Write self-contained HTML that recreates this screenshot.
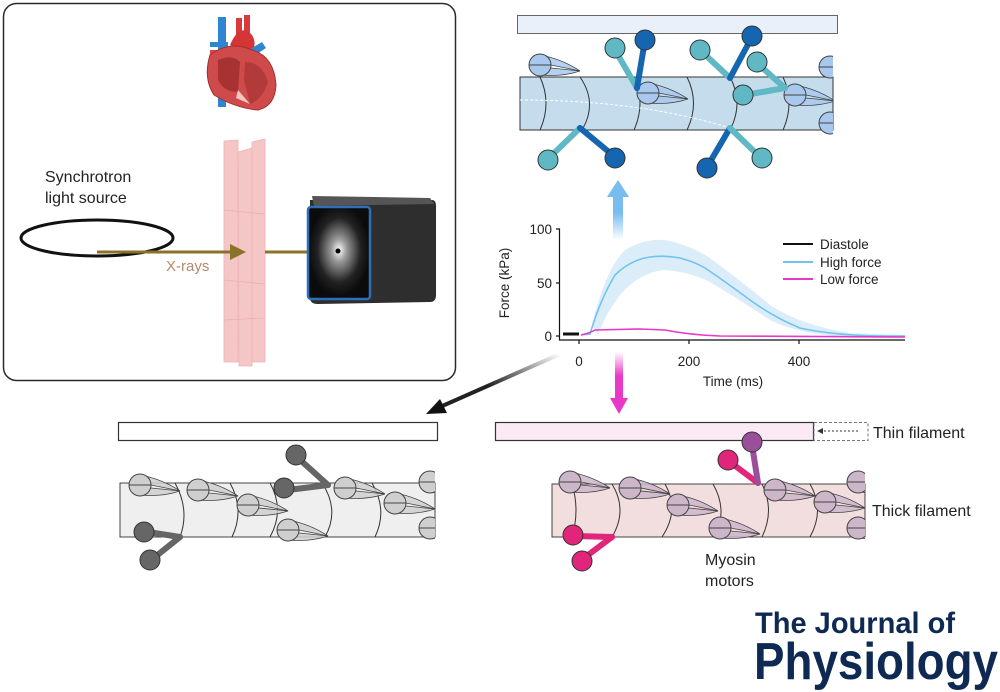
<!DOCTYPE html>
<html><head><meta charset="utf-8"><style>
html,body{margin:0;padding:0;background:#fff;}
svg{display:block;font-family:"Liberation Sans",sans-serif;}
</style></head><body>
<svg width="1000" height="692" viewBox="0 0 1000 692" xmlns="http://www.w3.org/2000/svg">
<defs>
  <g id="rest">
    <path d="M0,-10 Q22,-6 40,6 Q22,2 0,-2 Z" fill-opacity="0.85" stroke="#444" stroke-width="0.8"/>
    <path d="M0,2 Q22,4 40,6 Q22,12 0,10 Z" fill-opacity="0.85" stroke="#444" stroke-width="0.8"/>
    <circle cx="0" cy="0" r="11" stroke="#444" stroke-width="1"/>
    <line x1="-11" y1="0" x2="11" y2="0" stroke="#444" stroke-width="1"/>
  </g>
  <clipPath id="c1"><rect x="520" y="40" width="313" height="120"/></clipPath>
  <clipPath id="c2"><rect x="120" y="460" width="315" height="100"/></clipPath>
  <clipPath id="c3"><rect x="552" y="460" width="313" height="100"/></clipPath>
  <radialGradient id="glow" cx="0.5" cy="0.47" r="0.5"><stop offset="0" stop-color="#fff"/><stop offset="0.25" stop-color="#999"/><stop offset="0.7" stop-color="#222"/><stop offset="1" stop-color="#0b0b0b"/></radialGradient>
  <linearGradient id="bk" x1="1" y1="0" x2="0" y2="1"><stop offset="0" stop-color="#fff"/><stop offset="0.6" stop-color="#222"/></linearGradient>
  <linearGradient id="bl" x1="0" y1="1" x2="0" y2="0"><stop offset="0" stop-color="#fff"/><stop offset="0.6" stop-color="#79bdf0"/></linearGradient>
  <linearGradient id="mg" x1="0" y1="0" x2="0" y2="1"><stop offset="0" stop-color="#fff"/><stop offset="0.5" stop-color="#e838c8"/></linearGradient>
</defs>

<!-- Left panel -->
<rect x="3.5" y="3.5" width="452" height="377" rx="13" fill="#fff" stroke="#2a2a2a" stroke-width="1.5"/>
<g>
  <rect x="218" y="17" width="8" height="90" fill="#2f86d0"/>
  <rect x="210" y="42" width="18" height="5" fill="#2f86d0"/>
  <rect x="210" y="50" width="18" height="5" fill="#e04545"/>
  <rect x="236" y="18" width="6" height="30" fill="#d83b3b"/>
  <rect x="244" y="15" width="6" height="30" fill="#d83b3b"/>
  <path d="M230,45 Q240,22 252,35 Q258,45 250,55 Z" fill="#d63535"/>
  <path d="M240,55 L262,42 L266,48 L248,60 Z" fill="#2f86d0"/>
  <path d="M210,55 Q230,40 252,50 Q274,56 276,85 Q275,106 258,110 Q235,108 214,95 Q203,78 210,55 Z" fill="#cf4b4b" stroke="#a23030" stroke-width="1"/>
  <path d="M218,60 Q232,54 240,62 L238,92 Q224,92 218,80 Z" fill="#a83232"/>
  <path d="M245,62 Q262,62 268,82 Q262,100 250,104 L244,80 Z" fill="#b23a3a"/>
  <path d="M238,90 L250,104 L236,98 Z" fill="#f0c8c0"/>
</g>
<g fill="#f5c6c6" stroke="#efb2b2" stroke-width="0.8">
  <path d="M224,141 L238,140 L238,362 L224,362 Z"/>
  <path d="M238,152 L252,148 L252,366 L239,366 Z"/>
  <path d="M252,142 L265,139 L265,362 L252,362 Z"/>
</g>
<g fill="none" stroke="#eaa8a8" stroke-width="0.8" opacity="0.8">
  <line x1="224" y1="210" x2="265" y2="214"/><line x1="224" y1="280" x2="265" y2="284"/><line x1="224" y1="320" x2="265" y2="318"/>
</g>
<ellipse cx="97" cy="238" rx="76" ry="18" fill="none" stroke="#111" stroke-width="3"/>
<text x="45" y="182" font-size="16" fill="#222">Synchrotron</text>
<text x="45" y="203" font-size="16" fill="#222">light source</text>
<line x1="97" y1="252" x2="232" y2="252" stroke="#8a7328" stroke-width="3"/>
<path d="M230,244 L246,252 L230,260 Z" fill="#8a7328"/>
<line x1="265" y1="252" x2="325" y2="252" stroke="#8a7328" stroke-width="3"/>
<path d="M322,245 L337,252 L322,259 Z" fill="#8a7328"/>
<text x="166" y="271" font-size="15" fill="#b58a6c">X-rays</text>
<path d="M310,200 L432,200 Q436,200 436,206 L436,295 Q436,302 430,302 L318,304 Q310,304 310,298 Z" fill="#2e2e2e"/>
<path d="M312,196 L430,198 L434,204 L314,206 Z" fill="#555"/>
<rect x="308" y="207" width="62" height="92" rx="3" fill="url(#glow)" stroke="#2e6fb8" stroke-width="2.5"/>
<circle cx="338" cy="251" r="2.5" fill="#000"/>

<!-- Top right -->
<rect x="517.5" y="15.5" width="320" height="18" fill="#eaf0fa" stroke="#666" stroke-width="1"/>
<rect x="520" y="77" width="313" height="53" fill="#c4dcec" stroke="#333" stroke-width="1"/>
<g fill="none" stroke="#333" stroke-width="1">
  <path d="M540,77 Q552,103 540,130"/><path d="M580,77 Q598,103 582,130"/><path d="M634,77 Q646,103 634,130"/><path d="M687,77 Q700,103 687,130"/><path d="M730,77 Q744,103 730,130"/><path d="M783,77 Q795,103 783,130"/>
</g>
<path d="M520,100 Q640,100 730,128" stroke="#fff" stroke-dasharray="3,2" fill="none"/>
<g fill="#a8c8ee" clip-path="url(#c1)">
  <use href="#rest" x="540" y="65"/><use href="#rest" x="648" y="93"/><use href="#rest" x="795" y="95"/><use href="#rest" x="830" y="67"/><use href="#rest" x="830" y="123"/>
</g>
<g stroke-linecap="round">
  <line x1="637" y1="88" x2="615" y2="50" stroke="#5fb8c4" stroke-width="6"/>
  <line x1="637" y1="88" x2="645" y2="40" stroke="#1565b0" stroke-width="6"/>
  <line x1="580" y1="128" x2="550" y2="157" stroke="#5fb8c4" stroke-width="6"/>
  <line x1="580" y1="128" x2="615" y2="157" stroke="#1565b0" stroke-width="6"/>
  <line x1="730" y1="78" x2="700" y2="50" stroke="#5fb8c4" stroke-width="6"/>
  <line x1="730" y1="78" x2="752" y2="37" stroke="#1565b0" stroke-width="6"/>
  <line x1="785" y1="88" x2="745" y2="95" stroke="#5fb8c4" stroke-width="6"/>
  <line x1="785" y1="88" x2="757" y2="63" stroke="#5fb8c4" stroke-width="6"/>
  <line x1="730" y1="128" x2="707" y2="167" stroke="#1565b0" stroke-width="6"/>
  <line x1="730" y1="128" x2="760" y2="157" stroke="#5fb8c4" stroke-width="6"/>
</g>
<g stroke="#333" stroke-width="1">
  <circle cx="615" cy="48" r="10" fill="#5fb8c4"/><circle cx="645" cy="40" r="10" fill="#1565b0"/>
  <circle cx="548" cy="160" r="10" fill="#5fb8c4"/><circle cx="615" cy="158" r="10" fill="#1565b0"/>
  <circle cx="700" cy="50" r="10" fill="#5fb8c4"/><circle cx="752" cy="36" r="10" fill="#1565b0"/>
  <circle cx="743" cy="95" r="10" fill="#5fb8c4"/><circle cx="757" cy="62" r="10" fill="#5fb8c4"/>
  <circle cx="707" cy="168" r="10" fill="#1565b0"/><circle cx="762" cy="158" r="10" fill="#5fb8c4"/>
</g>
<rect x="613" y="195" width="10" height="45" fill="url(#bl)"/>
<path d="M607,197 L618,180 L629,197 Z" fill="#79bdf0"/>

<!-- Graph -->
<path d="M592,325 Q605,270 625,250 Q645,238 665,240 Q690,245 710,258 Q740,280 770,305 Q800,325 850,333 L905,335 L905,338 L850,337 Q800,335 770,320 Q740,300 710,282 Q690,272 665,270 Q640,272 620,295 Q605,315 598,335 Z" fill="#dcedfa"/>
<g fill="none" stroke-width="1.6">
  <path d="M581,335 L590,334 Q600,300 615,275 Q630,260 650,257 Q665,255 680,258 Q695,262 705,268 Q730,285 750,300 Q775,318 800,328 Q840,337 905,336" stroke="#6ec3ef"/>
  <path d="M581,335 Q590,333 595,330 L640,329 L665,330 Q690,335 720,336 L905,337" stroke="#e838c8"/>
  <line x1="563" y1="334" x2="579" y2="334" stroke="#111" stroke-width="3"/>
</g>
<g stroke="#111" stroke-width="1.2" fill="none">
  <path d="M556,229 L559.5,229 L559.5,340 L905,340"/>
  <line x1="556" y1="283" x2="559.5" y2="283"/><line x1="556" y1="336" x2="559.5" y2="336"/>
  <line x1="579" y1="340" x2="579" y2="344"/><line x1="689" y1="340" x2="689" y2="344"/><line x1="799" y1="340" x2="799" y2="344"/>
</g>
<g font-size="13.5" fill="#222">
  <text x="552" y="234" text-anchor="end">100</text>
  <text x="552" y="288" text-anchor="end">50</text>
  <text x="552" y="341" text-anchor="end">0</text>
  <text x="579" y="366" text-anchor="middle">0</text>
  <text x="689" y="366" text-anchor="middle">200</text>
  <text x="799" y="366" text-anchor="middle">400</text>
  <text x="733" y="386" text-anchor="middle">Time (ms)</text>
  <text transform="translate(509,283) rotate(-90)" text-anchor="middle">Force (kPa)</text>
  <text x="820" y="249">Diastole</text>
  <text x="820" y="267">High force</text>
  <text x="820" y="284">Low force</text>
</g>
<line x1="783" y1="244" x2="813" y2="244" stroke="#111" stroke-width="2"/>
<line x1="783" y1="262" x2="813" y2="262" stroke="#6ec3ef" stroke-width="2"/>
<line x1="783" y1="279" x2="813" y2="279" stroke="#e838c8" stroke-width="2"/>

<line x1="560" y1="354" x2="440" y2="407" stroke="url(#bk)" stroke-width="4"/>
<path d="M426,414 L440,399 L447,413 Z" fill="#111"/>
<rect x="615" y="352" width="8" height="48" fill="url(#mg)"/>
<path d="M610,398 L619,414 L628,398 Z" fill="#e838c8"/>

<!-- Bottom left -->
<rect x="118.5" y="422.5" width="319" height="18" fill="#fff" stroke="#333" stroke-width="1.2"/>
<rect x="120" y="483" width="315" height="54" fill="#efefef" stroke="#444" stroke-width="1"/>
<g fill="none" stroke="#333" stroke-width="1">
  <path d="M175,483 Q190,510 180,537"/><path d="M230,483 Q245,510 232,537"/><path d="M270,483 Q285,510 270,537"/><path d="M322,483 Q340,510 325,537"/><path d="M372,483 Q388,510 375,537"/>
</g>
<g fill="#cfcfcf" clip-path="url(#c2)">
  <use href="#rest" x="140" y="485"/><use href="#rest" x="198" y="490"/><use href="#rest" x="248" y="505"/><use href="#rest" x="288" y="530"/><use href="#rest" x="345" y="488"/><use href="#rest" x="395" y="503"/><use href="#rest" x="430" y="482"/><use href="#rest" x="430" y="528"/>
</g>
<g stroke-linecap="round" stroke="#666" stroke-width="6">
  <line x1="328" y1="485" x2="298" y2="458"/><line x1="328" y1="485" x2="288" y2="490"/>
  <line x1="180" y1="537" x2="148" y2="532"/><line x1="180" y1="537" x2="155" y2="557"/>
</g>
<g fill="#666" stroke="#333" stroke-width="1">
  <circle cx="296" cy="455" r="10"/><circle cx="284" cy="488" r="10"/><circle cx="144" cy="532" r="10"/><circle cx="150" cy="560" r="10"/>
</g>

<!-- Bottom right -->
<rect x="495.5" y="422.5" width="318" height="18" fill="#fbeaf4" stroke="#333" stroke-width="1.2"/>
<rect x="814" y="422.5" width="54" height="18" fill="none" stroke="#777" stroke-dasharray="3,2"/>
<line x1="858" y1="431" x2="822" y2="431" stroke="#333" stroke-dasharray="2,2"/>
<path d="M823,428 L817,431 L823,434 Z" fill="#333"/>
<rect x="552" y="484" width="313" height="53" fill="#f2dede" stroke="#444" stroke-width="1"/>
<g fill="none" stroke="#333" stroke-width="1">
  <path d="M572,484 Q580,510 572,537"/><path d="M612,484 Q628,510 612,537"/><path d="M665,484 Q680,510 662,537"/><path d="M713,484 Q728,510 715,537"/><path d="M762,484 Q775,510 762,537"/><path d="M810,484 Q825,510 810,537"/>
</g>
<g fill="#cdb6ca" clip-path="url(#c3)">
  <use href="#rest" x="570" y="482"/><use href="#rest" x="630" y="488"/><use href="#rest" x="678" y="505"/><use href="#rest" x="720" y="528"/><use href="#rest" x="775" y="490"/><use href="#rest" x="825" y="502"/><use href="#rest" x="858" y="482"/><use href="#rest" x="858" y="528"/>
</g>
<g stroke-linecap="round" stroke-width="6">
  <line x1="758" y1="483" x2="730" y2="462" stroke="#e0257a"/>
  <line x1="758" y1="483" x2="752" y2="445" stroke="#9b4f9a"/>
  <line x1="612" y1="537" x2="575" y2="536" stroke="#e0257a"/>
  <line x1="612" y1="537" x2="584" y2="558" stroke="#e0257a"/>
</g>
<g stroke="#333" stroke-width="1">
  <circle cx="728" cy="460" r="10" fill="#e0257a"/><circle cx="752" cy="442" r="10" fill="#9b4f9a"/>
  <circle cx="573" cy="535" r="10" fill="#e0257a"/><circle cx="582" cy="561" r="10" fill="#e0257a"/>
</g>
<g font-size="16" fill="#222">
  <text x="873" y="438">Thin filament</text>
  <text x="872" y="516">Thick filament</text>
  <text x="705" y="565">Myosin</text>
  <text x="705" y="586">motors</text>
</g>
<text x="755" y="633" font-size="30" font-weight="bold" fill="#0f2a52" textLength="200" lengthAdjust="spacingAndGlyphs">The Journal of</text>
<text x="754" y="679" font-size="52" font-weight="bold" fill="#0f2a52" textLength="244" lengthAdjust="spacingAndGlyphs">Physiology</text>
</svg>
</body></html>
